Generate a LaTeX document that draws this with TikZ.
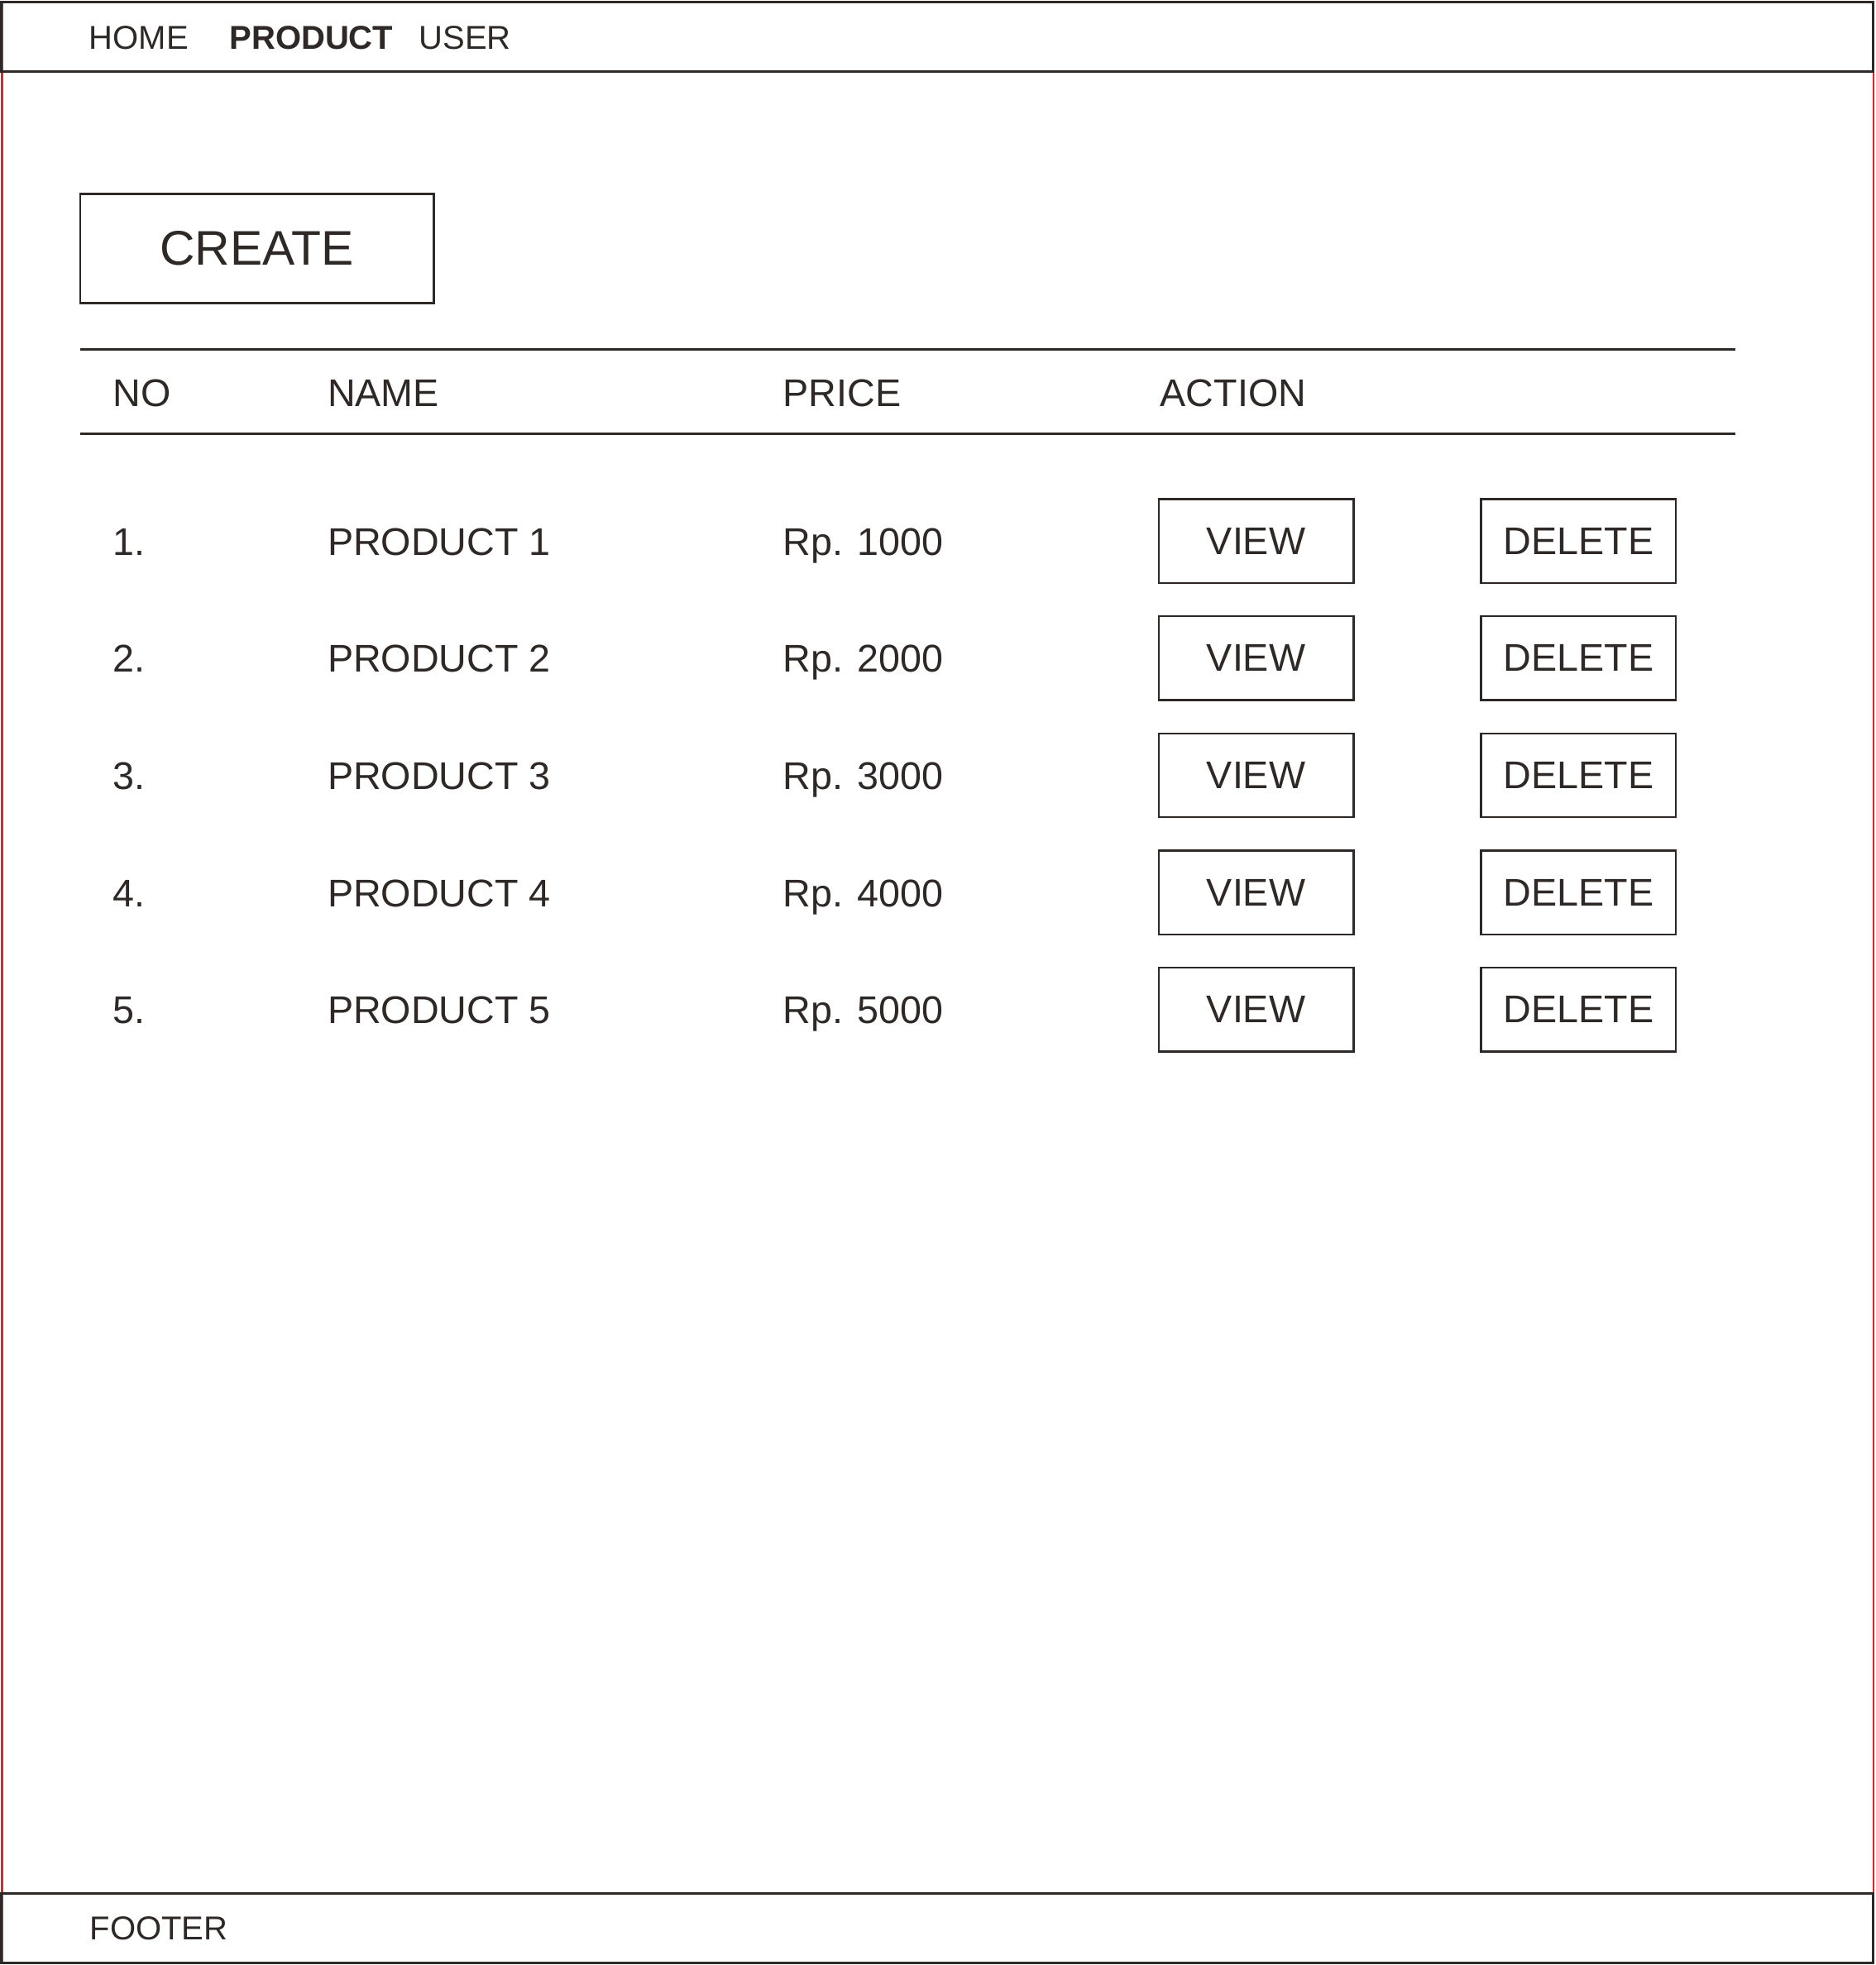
\documentclass[tikz,border=0pt]{standalone}
\usepackage{fontspec}
\setmainfont{Liberation Sans}
\definecolor{ink}{RGB}{46,41,38}
\definecolor{frame}{RGB}{225,35,45}
\begin{document}
\begin{tikzpicture}[x=0.5pt,y=-0.5pt,
  line/.style={draw=ink,line width=1pt},
  navtxt/.style={anchor=base west,inner sep=0pt,text=ink,font=\fontsize{13.2pt}{15pt}\selectfont},
  celltxt/.style={anchor=base west,inner sep=0pt,text=ink,font=\fontsize{15.4pt}{18pt}\selectfont},
  btn/.style={draw=ink,line width=0.8pt,minimum width=77.75pt,minimum height=33.5pt,inner sep=0pt,text=ink,font=\fontsize{15.4pt}{18pt}\selectfont},
  bigbtn/.style={draw=ink,line width=0.9pt,minimum width=141pt,minimum height=43.5pt,inner sep=0pt,text=ink,font=\fontsize{19.4pt}{22pt}\selectfont}]
\useasboundingbox (0,0) rectangle (1497,1568.3);
% outer frame
\draw[draw=frame,line width=0.9pt] (1.5,1.5) rectangle (1495,1566.5);
% header and footer bars
\draw[line] (1.3,1.8) rectangle (1495,56.8);
\draw[line] (1.3,1511) rectangle (1495,1566.5);
% navigation
\node[navtxt] (home) at (70.8,39.2) {HOME};
\node[navtxt,font=\fontsize{13.2pt}{15pt}\selectfont\bfseries] (product) at (182.8,39.2) {PRODUCT};
\node[navtxt] (user) at (334,39.2) {USER};
% create button
\node[bigbtn] (create) at (205,198.5) {CREATE};
% table rules
\coordinate (t1l) at (64,279);
\coordinate (t1r) at (1384.5,279);
\coordinate (t2l) at (64,346.1);
\coordinate (t2r) at (1384.5,346.1);
\draw[line] (t1l) -- (t1r);
\draw[line] (t2l) -- (t2r);
% header row
\node[celltxt] (hno) at (90,324.5) {NO};
\node[celltxt] (hname) at (261,324.5) {NAME};
\node[celltxt] (hprice) at (624.5,324.5) {PRICE};
\node[celltxt] (haction) at (925.5,324.5) {ACTION};
% rows
\foreach \i/\p in {1/1000,2/2000,3/3000,4/4000,5/5000}{
  \pgfmathsetmacro{\yb}{443+(\i-1)*93.5}
  \pgfmathsetmacro{\yc}{431.8+(\i-1)*93.5}
  \node[celltxt] (no\i) at (90,\yb) {\i.};
  \node[celltxt] (name\i) at (261,\yb) {PRODUCT \i};
  \node[celltxt] (price\i) at (624.5,\yb) {Rp. \p};
  \node[btn] (view\i) at (1002.3,\yc) {VIEW};
  \node[btn] (del\i) at (1259.7,\yc) {DELETE};
}
% footer
\node[navtxt] (footer) at (71.4,1548.3) {FOOTER};
\end{tikzpicture}
\end{document}
